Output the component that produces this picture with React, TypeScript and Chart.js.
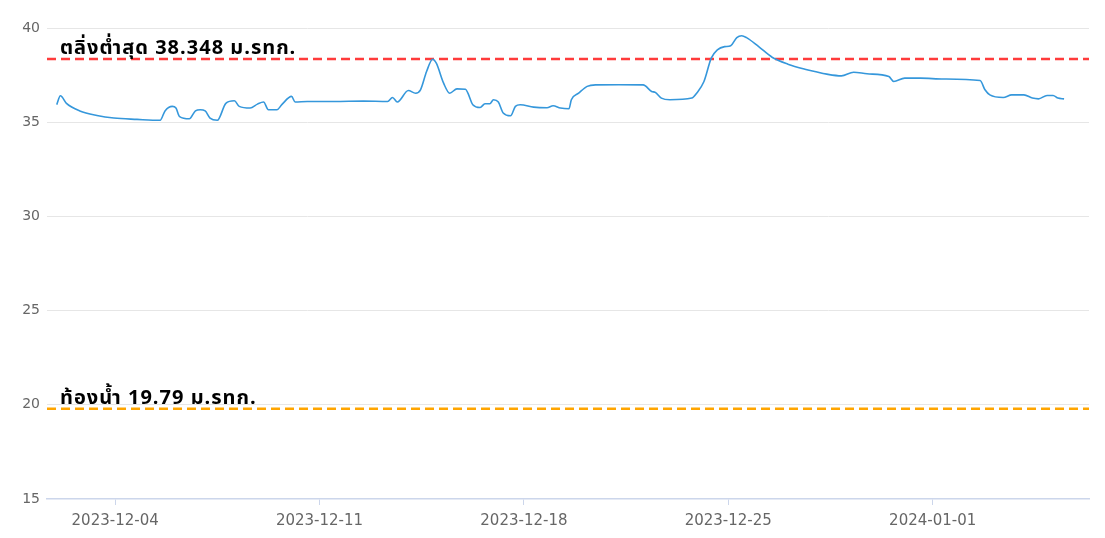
import React, { useEffect, useRef } from "react";
import { Chart, registerables } from "chart.js";

Chart.register(...registerables);

// Observation times (UTC) and water level values (m MSL)
const times: string[] = [
  "2023-12-02T00:00Z", "2023-12-02T03:00Z", "2023-12-02T08:00Z", "2023-12-02T19:00Z", "2023-12-03T09:00Z",
  "2023-12-03T23:00Z", "2023-12-04T18:00Z", "2023-12-05T13:00Z", "2023-12-05T17:00Z", "2023-12-05T23:00Z",
  "2023-12-06T02:00Z", "2023-12-06T05:00Z", "2023-12-06T13:00Z", "2023-12-06T18:00Z", "2023-12-06T22:00Z",
  "2023-12-07T02:00Z", "2023-12-07T06:00Z", "2023-12-07T12:00Z", "2023-12-07T19:00Z", "2023-12-08T02:00Z",
  "2023-12-08T06:00Z", "2023-12-08T15:00Z", "2023-12-08T21:00Z", "2023-12-09T02:00Z", "2023-12-09T06:00Z",
  "2023-12-09T13:00Z", "2023-12-09T17:00Z", "2023-12-10T01:00Z", "2023-12-10T04:00Z", "2023-12-10T14:00Z",
  "2023-12-11T12:00Z", "2023-12-12T12:00Z", "2023-12-13T08:00Z", "2023-12-13T12:00Z", "2023-12-13T16:00Z",
  "2023-12-14T01:00Z", "2023-12-14T07:00Z", "2023-12-14T11:00Z", "2023-12-14T16:00Z", "2023-12-14T21:00Z",
  "2023-12-15T00:00Z", "2023-12-15T06:00Z", "2023-12-15T11:00Z", "2023-12-15T17:00Z", "2023-12-16T00:00Z",
  "2023-12-16T02:00Z", "2023-12-16T06:00Z", "2023-12-16T12:00Z", "2023-12-16T16:00Z", "2023-12-16T20:00Z",
  "2023-12-16T23:00Z", "2023-12-17T03:00Z", "2023-12-17T07:00Z", "2023-12-17T13:00Z", "2023-12-17T17:00Z",
  "2023-12-17T21:00Z", "2023-12-18T08:00Z", "2023-12-18T19:00Z", "2023-12-19T00:00Z", "2023-12-19T06:00Z",
  "2023-12-19T13:00Z", "2023-12-19T15:00Z", "2023-12-19T21:00Z", "2023-12-20T04:00Z", "2023-12-20T11:00Z",
  "2023-12-21T06:00Z", "2023-12-22T02:00Z", "2023-12-22T09:00Z", "2023-12-22T12:00Z", "2023-12-22T17:00Z",
  "2023-12-23T00:00Z", "2023-12-23T18:00Z", "2023-12-23T22:00Z", "2023-12-24T04:00Z", "2023-12-24T10:00Z",
  "2023-12-24T15:00Z", "2023-12-24T21:00Z", "2023-12-25T02:00Z", "2023-12-25T07:00Z", "2023-12-25T11:00Z",
  "2023-12-25T15:00Z", "2023-12-26T01:00Z", "2023-12-26T12:00Z", "2023-12-27T01:00Z", "2023-12-27T15:00Z",
  "2023-12-27T23:00Z", "2023-12-28T09:00Z", "2023-12-28T21:00Z", "2023-12-29T07:00Z", "2023-12-29T18:00Z",
  "2023-12-30T12:00Z", "2023-12-30T16:00Z", "2023-12-31T01:00Z", "2023-12-31T14:00Z", "2024-01-01T09:00Z",
  "2024-01-02T15:00Z", "2024-01-02T19:00Z", "2024-01-02T23:00Z", "2024-01-03T10:00Z", "2024-01-03T17:00Z",
  "2024-01-04T03:00Z", "2024-01-04T10:00Z", "2024-01-04T15:00Z", "2024-01-04T22:00Z", "2024-01-05T03:00Z",
  "2024-01-05T07:00Z", "2024-01-05T12:00Z",
];

const levels: number[] = [
  35.93, 36.4, 36.0, 35.6, 35.36,
  35.22, 35.15, 35.1, 35.6, 35.84,
  35.75, 35.3, 35.18, 35.6, 35.66,
  35.6, 35.22, 35.1, 36.0, 36.14,
  35.84, 35.75, 35.96, 36.07, 35.66,
  35.66, 35.93, 36.37, 36.07, 36.1,
  36.1, 36.12, 36.1, 36.31, 36.07,
  36.68, 36.54, 36.72, 37.69, 38.34,
  38.13, 37.07, 36.54, 36.77, 36.75,
  36.54, 35.93, 35.78, 35.98, 35.98,
  36.19, 36.07, 35.49, 35.34, 35.84,
  35.93, 35.8, 35.77, 35.87, 35.75,
  35.71, 36.19, 36.54, 36.9, 36.98,
  36.99, 36.98, 36.63, 36.58, 36.28,
  36.19, 36.28, 36.54, 37.16, 38.4,
  38.84, 39.01, 39.06, 39.49, 39.59,
  39.49, 39.01, 38.45, 38.08, 37.81,
  37.69, 37.55, 37.46, 37.65, 37.57,
  37.42, 37.16, 37.34, 37.34, 37.29,
  37.21, 36.72, 36.45, 36.31, 36.45,
  36.45, 36.28, 36.24, 36.42, 36.42,
  36.28, 36.24,
];

const xTickDates: string[] = ["2023-12-04T00:00Z", "2023-12-11T00:00Z", "2023-12-18T00:00Z", "2023-12-25T00:00Z", "2024-01-01T00:00Z"];
const xTickLabels: string[] = ["2023-12-04", "2023-12-11", "2023-12-18", "2023-12-25", "2024-01-01"];
const xRange: string[] = ["2023-12-01T16:00Z", "2024-01-06T08:30Z"];

const yMin = 15;
const yMax = 40;
const yStep = 5;

const bankLevel = 38.348;
const bankLabel = "ตลิ่งต่ำสุด 38.348 ม.รทก.";
const bedLevel = 19.79;
const bedLabel = "ท้องน้ำ 19.79 ม.รทก.";

export default function App() {
  const canvasRef = useRef<HTMLCanvasElement | null>(null);

  useEffect(() => {
    const canvas = canvasRef.current;
    if (!canvas) return;
    const xMin = Date.parse(xRange[0]);
    const xMax = Date.parse(xRange[1]);
    const series = times.map((t, i) => ({ x: Date.parse(t), y: levels[i] }));

    const labelPlugin = {
      id: "levelLabels",
      afterDatasetsDraw(chart: any) {
        const { ctx, chartArea, scales } = chart;
        const y = scales.y;
        ctx.save();
        ctx.fillStyle = "#000";
        ctx.font = "bold 20px 'Noto Sans Thai', 'Noto Sans', 'DejaVu Sans', sans-serif";
        try {
          (ctx as any).letterSpacing = "1px";
        } catch (e) {}
        ctx.textAlign = "left";
        ctx.textBaseline = "alphabetic";
        ctx.fillText(bankLabel, chartArea.left + 13, y.getPixelForValue(bankLevel) - 5);
        ctx.fillText(bedLabel, chartArea.left + 13, y.getPixelForValue(bedLevel) - 5);
        ctx.restore();
      },
    };

    const chart = new Chart(canvas, {
      type: "line",
      data: {
        datasets: [
          {
            label: "level",
            data: series,
            borderColor: "#3597db",
            borderWidth: 1.6,
            pointRadius: 0,
            tension: 0.4,
            cubicInterpolationMode: "monotone",
            fill: false,
          },
          {
            label: "bank",
            data: [
              { x: xMin, y: bankLevel },
              { x: xMax, y: bankLevel },
            ],
            borderColor: "#ff3b3b",
            borderWidth: 2.5,
            borderDash: [9, 5],
            pointRadius: 0,
          },
          {
            label: "bed",
            data: [
              { x: xMin, y: bedLevel },
              { x: xMax, y: bedLevel },
            ],
            borderColor: "#ffa500",
            borderWidth: 2.5,
            borderDash: [9, 5],
            pointRadius: 0,
          },
        ],
      },
      options: {
        animation: false,
        responsive: true,
        maintainAspectRatio: false,
        layout: { padding: { left: 0, right: 16, top: 28, bottom: 0 } },
        plugins: {
          legend: { display: false },
          tooltip: { enabled: false },
        },
        scales: {
          x: {
            type: "linear",
            min: xMin,
            max: xMax,
            afterBuildTicks(scale: any) {
              scale.ticks = xTickDates.map((d) => ({ value: Date.parse(d) }));
            },
            afterFit(scale: any) {
              scale.height = 39;
            },
            ticks: {
              autoSkip: false,
              maxRotation: 0,
              padding: 7,
              color: "#666",
              font: { family: "'DejaVu Sans', sans-serif", size: 15 },
              callback: (_v: any, i: number) => xTickLabels[i],
            },
            grid: {
              drawOnChartArea: false,
              drawTicks: true,
              tickLength: 6,
              color: "#ccd6eb",
            },
            border: { display: true, color: "#ccd6eb", width: 1.5, z: 1 },
          },
          y: {
            type: "linear",
            min: yMin,
            max: yMax,
            afterFit(scale: any) {
              scale.width = 47;
            },
            ticks: {
              stepSize: yStep,
              padding: 7,
              color: "#666",
              font: { family: "'DejaVu Sans', sans-serif", size: 14 },
            },
            grid: {
              color: (c: any) => (c.tick && c.tick.value === yMin ? "rgba(0,0,0,0)" : "#e6e6e6"),
              drawTicks: false,
            },
            border: { display: false },
          },
        },
      },
      plugins: [labelPlugin],
    } as any);

    return () => chart.destroy();
  }, []);

  return (
    <div style={{ position: "absolute", left: 0, top: 0, width: 1105, height: 538, background: "#fff" }}>
      <canvas ref={canvasRef} />
    </div>
  );
}
